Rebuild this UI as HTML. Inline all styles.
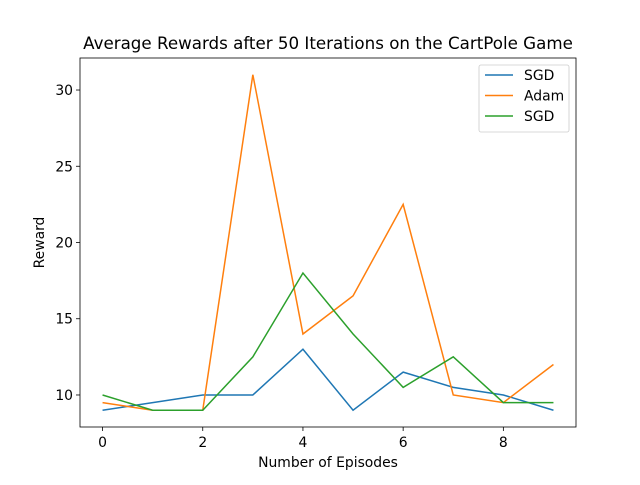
<!DOCTYPE html>
<html><head><meta charset="utf-8"><style>
body{margin:0;background:#fff}
svg text{font-family:"DejaVu Sans","Liberation Sans",sans-serif;fill:#000}
</style></head><body>
<svg id="chart" width="640" height="480">
<rect width="640" height="480" fill="#fff"/>
</svg>
<script>
const categories=[0,1,2,3,4,5,6,7,8,9];
const sgd1=[9,9.5,10,10,13,9,11.5,10.5,10,9];
const adam=[9.5,9,9,31,14,16.5,22.5,10,9.5,12];
const sgd2=[10,9,9,12.5,18,14,10.5,12.5,9.5,9.5];
const xTicks=[0,2,4,6,8];
const yTicks=[10,15,20,25,30];
const L=80,R=576,T=58,B=427;
const xmin=-0.45,xmax=9.45,ymin=7.9,ymax=32.1;
const xs=v=>L+(v-xmin)/(xmax-xmin)*(R-L);
const ys=v=>B-(v-ymin)/(ymax-ymin)*(B-T);
const svg=document.getElementById('chart');
const NS='http://www.w3.org/2000/svg';
function mk(tag,attrs,parent){const e=document.createElementNS(NS,tag);for(const k in attrs)e.setAttribute(k,attrs[k]);(parent||svg).appendChild(e);return e;}
xTicks.forEach(t=>{
 const l=mk('line',{x1:xs(t),x2:xs(t),y1:B,y2:B+4,stroke:'#000','stroke-width':0.8});
 
 
 const tx=mk('text',{x:xs(t),y:B+20,'text-anchor':'middle','font-size':13.9});
 tx.textContent=t;
 
 
});
yTicks.forEach(t=>{
 const l=mk('line',{x1:L-4,x2:L,y1:ys(t),y2:ys(t),stroke:'#000','stroke-width':0.8});
 
 
 const tx=mk('text',{x:L-7,y:ys(t)+5,'text-anchor':'end','font-size':13.9});
 tx.textContent=t;
 
 
});
const series=[[sgd1,'#1f77b4','SGD'],[adam,'#ff7f0e','Adam'],[sgd2,'#2ca02c','SGD']];
series.forEach(([d,c,n],i)=>{
 const p=mk('polyline',{points:d.map((v,j)=>xs(categories[j])+','+ys(v)).join(' '),fill:'none',stroke:c,'stroke-width':1.5});
 
 
});
const frame=mk('rect',{x:L,y:T,width:R-L,height:B-T,fill:'none',stroke:'#000','stroke-width':0.8});


const title=mk('text',{x:(L+R)/2,y:49,'text-anchor':'middle','font-size':16.7});
title.textContent='Average Rewards after 50 Iterations on the CartPole Game';


const xt=mk('text',{x:(L+R)/2,y:467,'text-anchor':'middle','font-size':13.9});
xt.textContent='Number of Episodes';


const yt=mk('text',{x:0,y:0,'text-anchor':'middle','font-size':13.9,transform:'translate(44,'+((T+B)/2)+') rotate(-90)'});
yt.textContent='Reward';


const lg=mk('g',{});


mk('rect',{x:479,y:65,width:90,height:67,rx:2,fill:'#fff',stroke:'#ccc','stroke-width':0.8},lg);
series.forEach(([d,c,n],i)=>{
 const y=75+i*20.5;
 const ln=mk('line',{x1:485,x2:513,y1:y,y2:y,stroke:c,'stroke-width':1.5},lg);
 
 
 const tx=mk('text',{x:524,y:y+5,'font-size':13.9},lg);
 tx.textContent=n;
 
 
});
</script>
</body></html>
